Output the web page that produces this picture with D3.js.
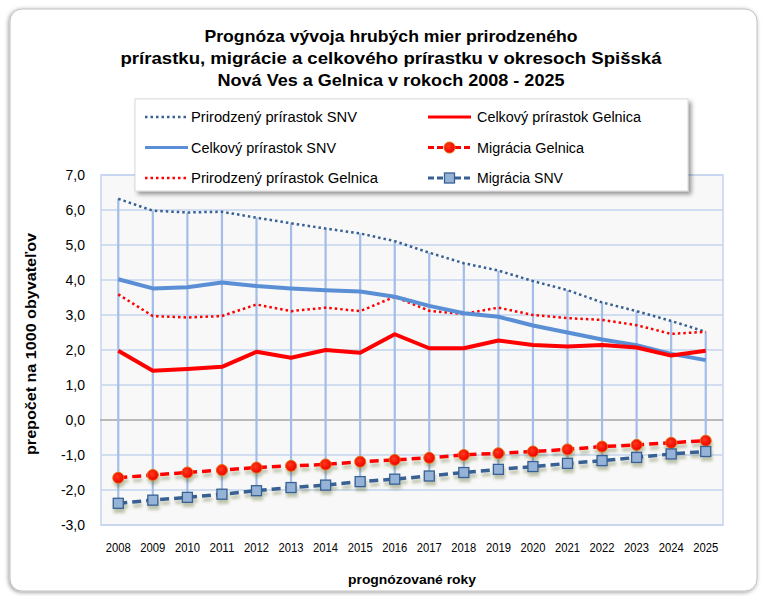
<!DOCTYPE html>
<html><head><meta charset="utf-8">
<script src="https://cdn.jsdelivr.net/npm/d3@7"></script>
<style>body{margin:0;background:#fff}svg{display:block}</style>
</head><body>
<svg id="c" width="762" height="596"></svg>
<script>
const years = ["2008","2009","2010","2011","2012","2013","2014","2015","2016","2017","2018","2019","2020","2021","2022","2023","2024","2025"];
const prirodzenySNV = [6.32,5.98,5.93,5.95,5.78,5.62,5.47,5.33,5.11,4.78,4.48,4.27,3.97,3.71,3.36,3.11,2.83,2.52];
const celkovySNV = [4.02,3.76,3.79,3.93,3.83,3.76,3.71,3.67,3.52,3.26,3.05,2.95,2.70,2.50,2.30,2.14,1.89,1.71];
const prirodzenyGelnica = [3.59,2.97,2.93,2.97,3.30,3.11,3.21,3.11,3.52,3.12,3.03,3.21,3.00,2.91,2.86,2.71,2.46,2.52];
const celkovyGelnica = [1.98,1.41,1.46,1.52,1.95,1.78,2.00,1.92,2.45,2.05,2.05,2.27,2.14,2.10,2.14,2.07,1.84,1.98];
const migraciaGelnica = [-1.65,-1.57,-1.50,-1.43,-1.36,-1.31,-1.27,-1.19,-1.14,-1.08,-1.00,-0.95,-0.90,-0.84,-0.76,-0.71,-0.65,-0.59];
const migraciaSNV = [-2.38,-2.29,-2.21,-2.12,-2.02,-1.93,-1.86,-1.76,-1.69,-1.60,-1.50,-1.41,-1.33,-1.24,-1.16,-1.07,-0.97,-0.90];
const yTicks = [7,6,5,4,3,2,1,0,-1,-2,-3];
const titleLines = ["Prognóza vývoja hrubých mier prirodzeného","prírastku, migrácie a celkového prírastku v okresoch Spišská","Nová Ves a Gelnica v rokoch 2008 - 2025"];
const yTitle = "prepočet na 1000 obyvateľov";
const xTitle = "prognózované roky";

const svg = d3.select("#c");
const defs = svg.append("defs");
const f1 = defs.append("filter").attr("id","frameSh").attr("x","-5%").attr("y","-5%").attr("width","110%").attr("height","110%");
f1.append("feDropShadow").attr("dx",-1).attr("dy",1).attr("stdDeviation",2).attr("flood-color","#000").attr("flood-opacity",0.4);
const f2 = defs.append("filter").attr("id","legSh").attr("x","-5%").attr("y","-10%").attr("width","115%").attr("height","130%");
f2.append("feDropShadow").attr("dx",3).attr("dy",3).attr("stdDeviation",2).attr("flood-color","#000").attr("flood-opacity",0.4);
const f3 = defs.append("filter").attr("id","lineSh").attr("x","-5%").attr("y","-50%").attr("width","110%").attr("height","200%");
f3.append("feDropShadow").attr("dx",1).attr("dy",4).attr("stdDeviation",1.5).attr("flood-color","#4f5f1f").attr("flood-opacity",0.35);
const rg = defs.append("radialGradient").attr("id","redG").attr("cx","40%").attr("cy","40%").attr("r","60%");
rg.append("stop").attr("offset","0%").attr("stop-color","#ff3a1a");
rg.append("stop").attr("offset","100%").attr("stop-color","#f00000");

// frame
svg.append("rect").attr("x",10).attr("y",9).attr("width",747).attr("height",582).attr("rx",12)
  .attr("fill","#fff").attr("stroke","#c0c0c0").attr("stroke-width",1).attr("filter","url(#frameSh)");

// title
const tw = [373, 541, 347];
titleLines.forEach((t,i)=>{
  svg.append("text").attr("x",391).attr("y",42+i*22).attr("text-anchor","middle")
    .attr("font-family","Liberation Sans, Arial, sans-serif").attr("font-weight","bold").attr("font-size",17)
    .attr("textLength",tw[i]).attr("lengthAdjust","spacingAndGlyphs").attr("fill","#000").text(t);
});

const L=101,R=723,T=175,B=525;
const x = d3.scaleBand().domain(years).range([L,R]);
const cx = d => x(d)+x.bandwidth()/2;
const y = d3.scaleLinear().domain([-3,7]).range([B,T]);

// plot area
svg.append("rect").attr("x",L).attr("y",T).attr("width",R-L).attr("height",B-T).attr("fill","#f8f8f8").attr("stroke","#c5d4ee").attr("stroke-width",1.5);
// gridlines
svg.append("g").selectAll("line").data(yTicks.filter(v=>v!==0)).join("line")
  .attr("x1",L).attr("x2",R).attr("y1",d=>y(d)).attr("y2",d=>y(d)).attr("stroke","#c5d4ee").attr("stroke-width",1.5);
svg.append("line").attr("x1",L-1).attr("x2",R).attr("y1",y(0)).attr("y2",y(0)).attr("stroke","#a5a5a5").attr("stroke-width",1.5);

// y axis labels
const yAxis = d3.axisLeft(y).tickValues(yTicks).tickSize(0).tickPadding(16).tickFormat(d=>d3.format(".1f")(d).replace(".",",").replace("−","-"));
const ya = svg.append("g").attr("transform",`translate(${L},0)`).call(yAxis);
ya.select(".domain").remove();
ya.selectAll("text").attr("font-family","Liberation Sans, Arial, sans-serif").attr("font-size",14).attr("fill","#000");

// x axis labels
const xAxis = d3.axisBottom(x).tickSize(0).tickPadding(0);
const xa = svg.append("g").attr("transform",`translate(0,${B+18})`).call(xAxis);
xa.select(".domain").remove();
xa.selectAll("text").attr("font-family","Liberation Sans, Arial, sans-serif").attr("font-size",12.5).attr("fill","#000")
  .attr("textLength",25).attr("lengthAdjust","spacingAndGlyphs");

// axis titles
svg.append("text").attr("transform","translate(36,344) rotate(-90)").attr("text-anchor","middle")
  .attr("font-family","Liberation Sans, Arial, sans-serif").attr("font-weight","bold").attr("font-size",14.5)
  .attr("textLength",222).attr("lengthAdjust","spacingAndGlyphs").text(yTitle);
svg.append("text").attr("x",412).attr("y",584).attr("text-anchor","middle")
  .attr("font-family","Liberation Sans, Arial, sans-serif").attr("font-weight","bold").attr("font-size",13.5)
  .attr("textLength",128).attr("lengthAdjust","spacingAndGlyphs").text(xTitle);

// high-low lines
const all = [prirodzenySNV,celkovySNV,prirodzenyGelnica,celkovyGelnica,migraciaGelnica,migraciaSNV];
svg.append("g").selectAll("line").data(years).join("line")
  .attr("x1",d=>cx(d)).attr("x2",d=>cx(d))
  .attr("y1",(d,i)=>y(d3.max(all,s=>s[i]))).attr("y2",(d,i)=>y(d3.min(all,s=>s[i])))
  .attr("stroke","#a3bde8").attr("stroke-width",2.2);

const line = d3.line().x((d,i)=>cx(years[i])).y(d=>y(d));
function drawLine(data, color, width, dash, filter){
  const p = svg.append("path").attr("d",line(data)).attr("fill","none").attr("stroke",color).attr("stroke-width",width).attr("stroke-linejoin","round");
  if(dash) p.attr("stroke-dasharray",dash);
  if(filter) p.attr("filter",filter);
  return p;
}
drawLine(prirodzenySNV,"#376092",2.5,"2.5,3");
drawLine(prirodzenyGelnica,"#ff0000",2.5,"2.5,3");
drawLine(celkovySNV,"#5a8fd6",4);
drawLine(celkovyGelnica,"#ff0000",4);
const gMig = svg.append("g").attr("filter","url(#lineSh)");
gMig.append("path").attr("d",line(migraciaGelnica)).attr("fill","none").attr("stroke","#ff0000").attr("stroke-width",3.5).attr("stroke-dasharray","9,5");
gMig.selectAll("circle").data(migraciaGelnica).join("circle").attr("cx",(d,i)=>cx(years[i])).attr("cy",d=>y(d)).attr("r",5.5)
  .attr("fill","url(#redG)").attr("stroke","#e46c0a").attr("stroke-width",1);
const gMig2 = svg.append("g").attr("filter","url(#lineSh)");
gMig2.append("path").attr("d",line(migraciaSNV)).attr("fill","none").attr("stroke","#376092").attr("stroke-width",3.5).attr("stroke-dasharray","9,5");
gMig2.selectAll("rect").data(migraciaSNV).join("rect").attr("x",(d,i)=>cx(years[i])-5).attr("y",d=>y(d)-5).attr("width",10).attr("height",10)
  .attr("fill","#95b3d7").attr("stroke","#376092").attr("stroke-width",1.3);

// legend
const lg = svg.append("g");
lg.append("rect").attr("x",135).attr("y",99).attr("width",553).attr("height",92).attr("fill","#fff").attr("stroke","#d0d0d0").attr("stroke-width",0.8).attr("filter","url(#legSh)");
const legItems = [
  {name:"Prirodzený prírastok SNV", col:0,row:0, color:"#376092", w:2.5, dash:"2.5,3", tl:166},
  {name:"Celkový prírastok SNV", col:0,row:1, color:"#5a8fd6", w:3, tl:145},
  {name:"Prirodzený prírastok Gelnica", col:0,row:2, color:"#ff0000", w:2.5, dash:"2.5,3", tl:187},
  {name:"Celkový prírastok Gelnica", col:1,row:0, color:"#ff0000", w:3, tl:164},
  {name:"Migrácia Gelnica", col:1,row:1, color:"#ff0000", w:3, dash:"6,3", marker:"circle", tl:107},
  {name:"Migrácia SNV", col:1,row:2, color:"#376092", w:3, dash:"6,3", marker:"square", tl:86}
];
legItems.forEach(it=>{
  const x0 = it.col===0 ? 145 : 428, yy = 117 + it.row*30.5;
  const ln = lg.append("line").attr("x1",x0).attr("x2",x0+43).attr("y1",yy).attr("y2",yy).attr("stroke",it.color).attr("stroke-width",it.w);
  if(it.dash) ln.attr("stroke-dasharray",it.dash);
  if(it.marker==="circle") lg.append("circle").attr("cx",x0+21.5).attr("cy",yy).attr("r",5.5).attr("fill","url(#redG)").attr("stroke","#e46c0a");
  if(it.marker==="square") lg.append("rect").attr("x",x0+16.5).attr("y",yy-5).attr("width",10).attr("height",10).attr("fill","#95b3d7").attr("stroke","#376092").attr("stroke-width",1.3);
  lg.append("text").attr("x", it.col===0?191:477).attr("y",yy+5).attr("font-family","Liberation Sans, Arial, sans-serif").attr("font-size",14)
    .attr("textLength",it.tl).attr("lengthAdjust","spacingAndGlyphs").attr("fill","#000").text(it.name);
});
</script>
</body></html>
